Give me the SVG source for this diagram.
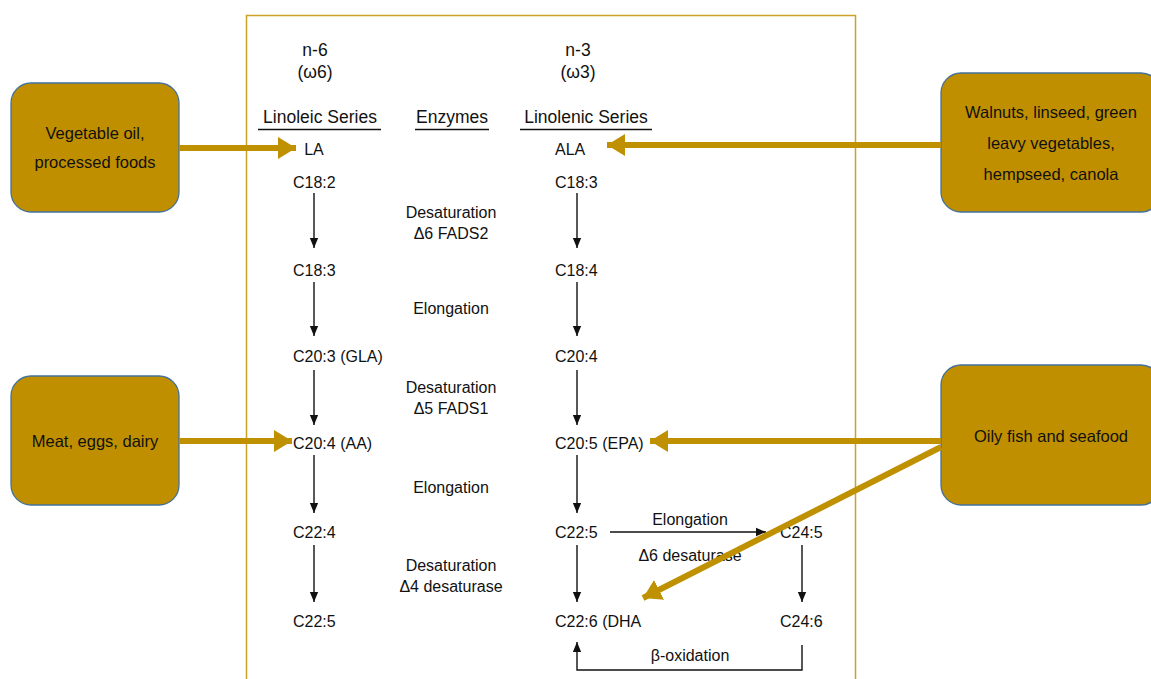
<svg xmlns="http://www.w3.org/2000/svg" width="1151" height="679" viewBox="0 0 1151 679">
<defs>
<style>
.t{font-family:"Liberation Sans",Arial,sans-serif;font-size:16px;fill:#111;dominant-baseline:central}
.h{font-size:17.5px}
.m{text-anchor:middle}
.bx{fill:#BF8F00;stroke:#41719C;stroke-width:1.3}
.bt{font-family:"Liberation Sans",Arial,sans-serif;font-size:16.5px;fill:#111;text-anchor:middle;dominant-baseline:central}
.k{stroke:#111;stroke-width:1.4;fill:none}
.g{stroke:#BF9000;stroke-width:6;fill:none}
</style>
<marker id="ka" markerUnits="userSpaceOnUse" markerWidth="10" markerHeight="14" refX="12" refY="5" orient="auto" viewBox="0 0 12 10">
<path d="M0,0 L12,5 L0,10 Z" fill="#111"/>
</marker>
<marker id="ga" markerUnits="userSpaceOnUse" markerWidth="18" markerHeight="22" refX="18" refY="11" orient="auto" viewBox="0 0 18 22">
<path d="M0,0 L18,11 L0,22 Z" fill="#BF9000"/>
</marker>
</defs>
<rect width="1151" height="679" fill="#fff"/>
<rect id="panel" x="246.5" y="15.5" width="609" height="700" fill="#fff" stroke="#C9A227" stroke-width="1.5"/>

<g id="headers">
<text class="t h m" x="315" y="50">n-6</text>
<text class="t h m" x="315" y="72">(ω6)</text>
<text class="t h m" x="578" y="50">n-3</text>
<text class="t h m" x="578" y="72">(ω3)</text>
<text class="t h m" x="320" y="117">Linoleic Series</text>
<text class="t h m" x="452" y="117">Enzymes</text>
<text class="t h m" x="586" y="117">Linolenic Series</text>
<path d="M258,129.5H381M415,129.5H489M520,129.5H652" stroke="#111" stroke-width="1.6"/>
</g>

<g id="n6">
<text class="t m" x="314" y="149">LA</text>
<text class="t" x="293" y="182">C18:2</text>
<text class="t" x="293" y="270">C18:3</text>
<text class="t" x="293" y="356">C20:3 (GLA)</text>
<text class="t" x="293" y="443">C20:4 (AA)</text>
<text class="t" x="293" y="532">C22:4</text>
<text class="t" x="293" y="621">C22:5</text>
</g>

<g id="enzymes">
<text class="t m" x="451" y="212">Desaturation</text>
<text class="t m" x="451" y="233">Δ6 FADS2</text>
<text class="t m" x="451" y="308">Elongation</text>
<text class="t m" x="451" y="387">Desaturation</text>
<text class="t m" x="451" y="408">Δ5 FADS1</text>
<text class="t m" x="451" y="487">Elongation</text>
<text class="t m" x="451" y="565">Desaturation</text>
<text class="t m" x="451" y="586">Δ4 desaturase</text>
</g>

<g id="n3">
<text class="t" x="555" y="149">ALA</text>
<text class="t" x="555" y="182">C18:3</text>
<text class="t" x="555" y="270">C18:4</text>
<text class="t" x="555" y="356">C20:4</text>
<text class="t" x="555" y="443">C20:5 (EPA)</text>
<text class="t" x="555" y="532">C22:5</text>
<text class="t" x="555" y="621">C22:6 (DHA</text>
<text class="t" x="780" y="532">C24:5</text>
<text class="t" x="780" y="621">C24:6</text>
<text class="t m" x="690" y="519">Elongation</text>
<text class="t m" x="690" y="555">Δ6 desaturase</text>
<text class="t m" x="690" y="655">β-oxidation</text>
</g>

<g id="src-veg">
<rect class="bx" x="11" y="83" width="168" height="129" rx="20"/>
<text class="bt" x="95" y="133">Vegetable oil,</text>
<text class="bt" x="95" y="162">processed foods</text>
</g>
<g id="src-meat">
<rect class="bx" x="11" y="376" width="168" height="129" rx="20"/>
<text class="bt" x="95" y="441">Meat, eggs, dairy</text>
</g>
<g id="src-walnut">
<rect class="bx" x="941" y="73" width="220" height="139" rx="20"/>
<text class="bt" x="1051" y="112">Walnuts, linseed, green</text>
<text class="bt" x="1051" y="143">leavy vegetables,</text>
<text class="bt" x="1051" y="174">hempseed, canola</text>
</g>
<g id="src-fish">
<rect class="bx" x="941" y="365" width="220" height="140" rx="20"/>
<text class="bt" x="1051" y="436">Oily fish and seafood</text>
</g>

<g id="connectors">
<line class="k" x1="314" y1="193" x2="314" y2="248" marker-end="url(#ka)"/>
<line class="k" x1="314" y1="282" x2="314" y2="336" marker-end="url(#ka)"/>
<line class="k" x1="314" y1="370" x2="314" y2="425" marker-end="url(#ka)"/>
<line class="k" x1="314" y1="455" x2="314" y2="513" marker-end="url(#ka)"/>
<line class="k" x1="314" y1="545" x2="314" y2="602" marker-end="url(#ka)"/>
<line class="k" x1="577" y1="193" x2="577" y2="248" marker-end="url(#ka)"/>
<line class="k" x1="577" y1="282" x2="577" y2="336" marker-end="url(#ka)"/>
<line class="k" x1="577" y1="370" x2="577" y2="425" marker-end="url(#ka)"/>
<line class="k" x1="577" y1="455" x2="577" y2="513" marker-end="url(#ka)"/>
<line class="k" x1="577" y1="545" x2="577" y2="602" marker-end="url(#ka)"/>
<line class="k" x1="802" y1="545" x2="802" y2="602" marker-end="url(#ka)"/>
<line class="k" x1="610" y1="532" x2="766" y2="532" marker-end="url(#ka)"/>
<path class="k" d="M802,645V670H577V642" marker-end="url(#ka)"/>
<line class="g" x1="179" y1="148" x2="296" y2="148" marker-end="url(#ga)"/>
<line class="g" x1="179" y1="441" x2="292" y2="441" marker-end="url(#ga)"/>
<line class="g" x1="941" y1="145" x2="607" y2="145" marker-end="url(#ga)"/>
<line class="g" x1="941" y1="441" x2="650" y2="441" marker-end="url(#ga)"/>
<line class="g" x1="941" y1="447" x2="643" y2="598" marker-end="url(#ga)"/>
</g>
</svg>
